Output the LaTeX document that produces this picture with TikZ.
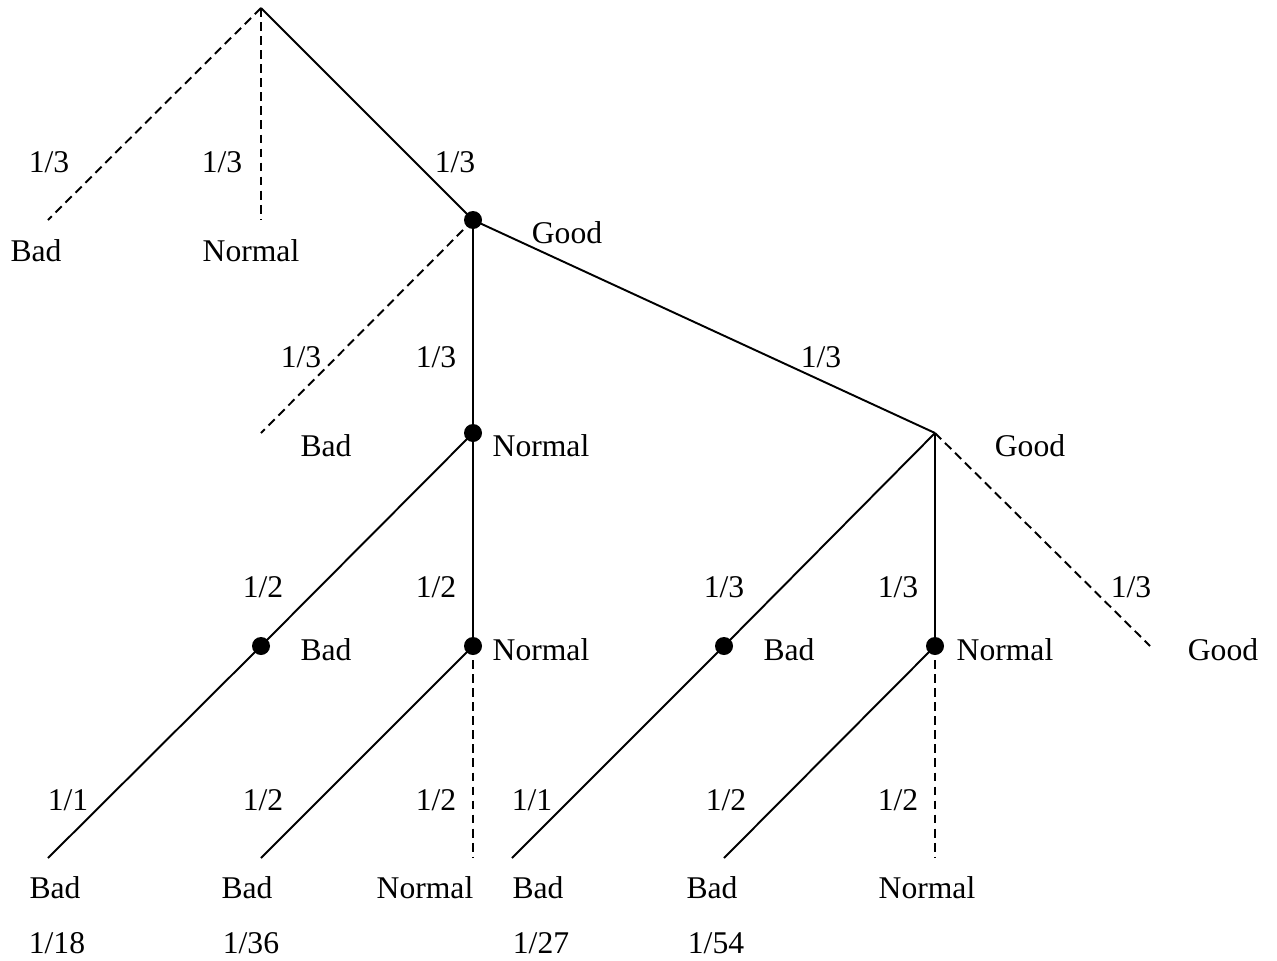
\documentclass[tikz,border=0pt]{standalone}
\usepackage{fontspec}
\setmainfont{Liberation Serif}
\begin{document}
\begin{tikzpicture}[x=0.02cm,y=-0.02cm,line width=1.1pt,
  dsh/.style={dash pattern=on 5pt off 3pt},
  dot/.style={circle,fill=black,inner sep=0pt,minimum size=0.36cm},
  lbl/.style={inner sep=0pt,anchor=base,font=\fontsize{18}{20}\selectfont}]
\useasboundingbox (0,0) rectangle (1277,960);
% tree points
\coordinate (r) at (261,8);
\coordinate (a1) at (48,220);
\coordinate (a2) at (261,220);
\coordinate (g1) at (473,220);
\coordinate (b1) at (261,433);
\coordinate (n2) at (473,433);
\coordinate (g2) at (935,433);
\coordinate (c1) at (261,646);
\coordinate (c2) at (473,646);
\coordinate (c3) at (724,646);
\coordinate (c4) at (935,646);
\coordinate (c5) at (1150,646);
\coordinate (d1) at (48,858);
\coordinate (d2) at (261,858);
\coordinate (d3) at (473,858);
\coordinate (d4) at (512,858);
\coordinate (d5) at (724,858);
\coordinate (d6) at (935,858);
% solid branches
\draw (r) -- (g1);
\draw (g1) -- (n2);
\draw (g1) -- (g2);
\draw (n2) -- (c1);
\draw (n2) -- (c2);
\draw (g2) -- (c3);
\draw (g2) -- (c4);
\draw (c1) -- (d1);
\draw (c2) -- (d2);
\draw (c3) -- (d4);
\draw (c4) -- (d5);
% dashed branches
\draw[dsh] (r) -- (a1);
\draw[dsh] (r) -- (a2);
\draw[dsh] (g1) -- (b1);
\draw[dsh] (g2) -- (c5);
\draw[dsh] (c2) -- (d3);
\draw[dsh] (c4) -- (d6);
% dots
\node[dot] (dg1) at (g1) {};
\node[dot] (dn2) at (n2) {};
\node[dot] (dc1) at (c1) {};
\node[dot] (dc2) at (c2) {};
\node[dot] (dc3) at (c3) {};
\node[dot] (dc4) at (c4) {};
% labels row 1
\node[lbl] (p1) at (49,172) {1/3};
\node[lbl] (p2) at (222,172) {1/3};
\node[lbl] (p3) at (455,172) {1/3};
\node[lbl] (s1) at (36,261) {Bad};
\node[lbl] (s2) at (251,261) {Normal};
\node[lbl] (s3) at (567,243) {Good};
% row 2
\node[lbl] (p4) at (301,367) {1/3};
\node[lbl] (p5) at (436,367) {1/3};
\node[lbl] (p6) at (821,367) {1/3};
\node[lbl] (s4) at (326,456) {Bad};
\node[lbl] (s5) at (541,456) {Normal};
\node[lbl] (s6) at (1030,456) {Good};
% row 3
\node[lbl] (p7) at (263,597) {1/2};
\node[lbl] (p8) at (436,597) {1/2};
\node[lbl] (p9) at (724,597) {1/3};
\node[lbl] (p10) at (898,597) {1/3};
\node[lbl] (p11) at (1131,597) {1/3};
\node[lbl] (s7) at (326,660) {Bad};
\node[lbl] (s8) at (541,660) {Normal};
\node[lbl] (s9) at (789,660) {Bad};
\node[lbl] (s10) at (1005,660) {Normal};
\node[lbl] (s11) at (1223,660) {Good};
% row 4
\node[lbl] (p12) at (68,810) {1/1};
\node[lbl] (p13) at (263,810) {1/2};
\node[lbl] (p14) at (436,810) {1/2};
\node[lbl] (p15) at (532,810) {1/1};
\node[lbl] (p16) at (726,810) {1/2};
\node[lbl] (p17) at (898,810) {1/2};
\node[lbl] (s12) at (55,898) {Bad};
\node[lbl] (s13) at (247,898) {Bad};
\node[lbl] (s14) at (425,898) {Normal};
\node[lbl] (s15) at (538,898) {Bad};
\node[lbl] (s16) at (712,898) {Bad};
\node[lbl] (s17) at (927,898) {Normal};
% final probabilities
\node[lbl] (f1) at (57,953) {1/18};
\node[lbl] (f2) at (251,953) {1/36};
\node[lbl] (f3) at (541,953) {1/27};
\node[lbl] (f4) at (716,953) {1/54};
\end{tikzpicture}
\end{document}
